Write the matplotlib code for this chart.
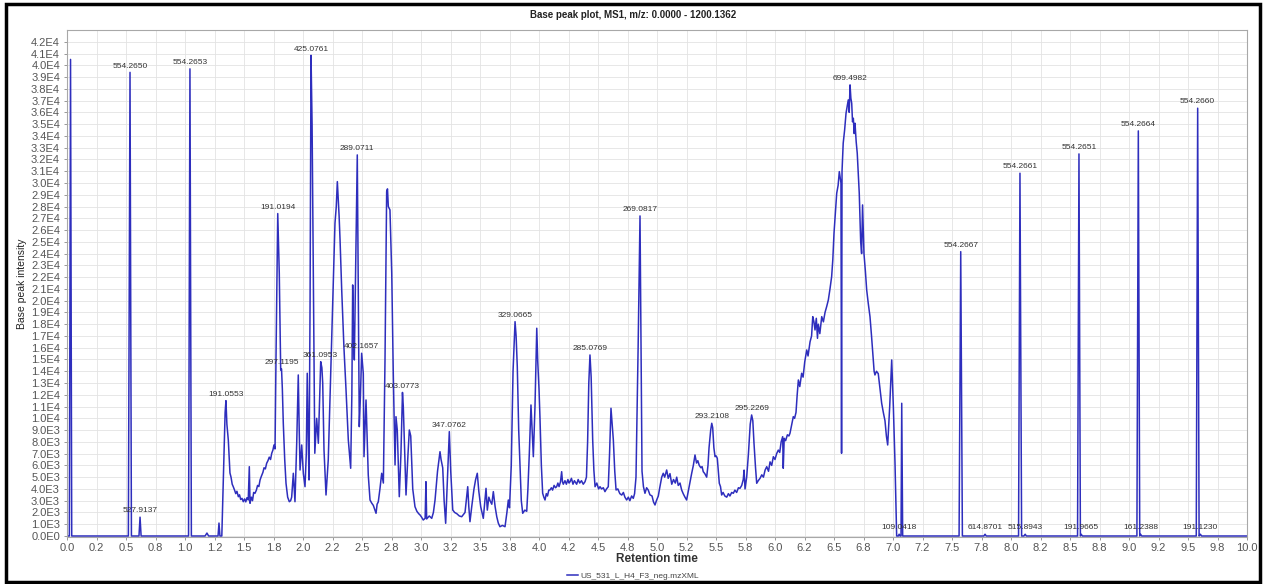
import numpy as np
import matplotlib
matplotlib.use('Agg')
import matplotlib.pyplot as plt
from matplotlib.patches import Rectangle
from matplotlib.lines import Line2D

plt.rcParams['font.family'] = ['Liberation Sans', 'DejaVu Sans']

TITLE = 'Base peak plot, MS1, m/z: 0.0000 - 1200.1362'
SAMPLE = 'US_531_L_H4_F3_neg.mzXML'
X_LABEL = 'Retention time'
Y_LABEL = 'Base peak intensity'

# base peak chromatogram: retention time (min) / intensity
rt = [
    0.000, 0.020, 0.030, 0.040, 0.520, 0.534, 0.546, 0.610, 0.619, 0.628,
    1.030, 1.042, 1.054, 1.170, 1.186, 1.200, 1.280, 1.288, 1.296, 1.312,
    1.325, 1.340, 1.347, 1.355, 1.367, 1.381, 1.390, 1.400, 1.409, 1.420,
    1.430, 1.440, 1.452, 1.462, 1.472, 1.483, 1.494, 1.505, 1.515, 1.525,
    1.536, 1.545, 1.551, 1.562, 1.572, 1.582, 1.593, 1.605, 1.615, 1.626,
    1.636, 1.648, 1.660, 1.670, 1.681, 1.692, 1.703, 1.714, 1.725, 1.735,
    1.745, 1.754, 1.763, 1.771, 1.786, 1.799, 1.811, 1.818, 1.825, 1.833,
    1.845, 1.856, 1.870, 1.884, 1.895, 1.904, 1.918, 1.932, 1.947, 1.960,
    1.968, 1.975, 1.989, 2.003, 2.017, 2.028, 2.036, 2.045, 2.051, 2.060,
    2.068, 2.077, 2.087, 2.100, 2.116, 2.130, 2.142, 2.150, 2.160, 2.167,
    2.178, 2.195, 2.214, 2.230, 2.243, 2.258, 2.271, 2.282, 2.291, 2.299,
    2.306, 2.314, 2.328, 2.347, 2.364, 2.384, 2.404, 2.414, 2.421, 2.428,
    2.435, 2.448, 2.460, 2.468, 2.477, 2.487, 2.497, 2.505, 2.511, 2.517,
    2.534, 2.553, 2.568, 2.582, 2.596, 2.610, 2.619, 2.628, 2.638, 2.652,
    2.667, 2.681, 2.695, 2.709, 2.716, 2.723, 2.737, 2.752, 2.765, 2.780,
    2.788, 2.799, 2.816, 2.830, 2.843, 2.850, 2.856, 2.873, 2.890, 2.901,
    2.913, 2.930, 2.949, 2.965, 2.980, 2.992, 3.005, 3.019, 3.035, 3.042,
    3.048, 3.070, 3.091, 3.105, 3.119, 3.140, 3.161, 3.170, 3.184, 3.196,
    3.209, 3.225, 3.240, 3.252, 3.269, 3.285, 3.303, 3.325, 3.345, 3.373,
    3.396, 3.405, 3.415, 3.430, 3.449, 3.463, 3.477, 3.490, 3.506, 3.528,
    3.540, 3.551, 3.562, 3.575, 3.585, 3.600, 3.613, 3.628, 3.642, 3.655,
    3.669, 3.690, 3.712, 3.728, 3.740, 3.750, 3.765, 3.780, 3.797, 3.806,
    3.816, 3.828, 3.839, 3.850, 3.862, 3.880, 3.896, 3.906, 3.918, 3.932,
    3.942, 3.952, 3.966, 3.981, 3.989, 4.000, 4.008, 4.020, 4.031, 4.041,
    4.051, 4.062, 4.072, 4.083, 4.093, 4.105, 4.115, 4.128, 4.140, 4.150,
    4.160, 4.170, 4.182, 4.192, 4.199, 4.206, 4.220, 4.232, 4.245, 4.255,
    4.263, 4.275, 4.288, 4.300, 4.319, 4.332, 4.345, 4.360, 4.375, 4.390,
    4.402, 4.412, 4.422, 4.432, 4.442, 4.455, 4.465, 4.475, 4.490, 4.505,
    4.517, 4.530, 4.545, 4.559, 4.572, 4.587, 4.598, 4.610, 4.620, 4.630,
    4.642, 4.653, 4.668, 4.685, 4.701, 4.715, 4.728, 4.743, 4.757, 4.770,
    4.785, 4.799, 4.810, 4.822, 4.840, 4.856, 4.866, 4.873, 4.885, 4.898,
    4.912, 4.926, 4.940, 4.958, 4.970, 4.983, 4.995, 5.011, 5.025, 5.040,
    5.053, 5.065, 5.082, 5.095, 5.110, 5.125, 5.140, 5.155, 5.167, 5.180,
    5.195, 5.209, 5.222, 5.237, 5.251, 5.265, 5.280, 5.294, 5.308, 5.322,
    5.335, 5.346, 5.358, 5.372, 5.382, 5.392, 5.405, 5.421, 5.432, 5.441,
    5.455, 5.464, 5.472, 5.482, 5.492, 5.502, 5.511, 5.520, 5.528, 5.538,
    5.548, 5.560, 5.575, 5.591, 5.605, 5.618, 5.633, 5.647, 5.660, 5.675,
    5.690, 5.703, 5.718, 5.731, 5.738, 5.746, 5.760, 5.775, 5.790, 5.802,
    5.812, 5.822, 5.835, 5.845, 5.858, 5.873, 5.888, 5.902, 5.916, 5.930,
    5.945, 5.958, 5.972, 5.986, 6.000, 6.014, 6.028, 6.040, 6.052, 6.065,
    6.070, 6.078, 6.090, 6.105, 6.118, 6.127, 6.140, 6.155, 6.166, 6.178,
    6.188, 6.198, 6.210, 6.226, 6.238, 6.252, 6.269, 6.280, 6.297, 6.310,
    6.320, 6.330, 6.339, 6.350, 6.360, 6.367, 6.380, 6.396, 6.410, 6.424,
    6.438, 6.452, 6.466, 6.480, 6.490, 6.500, 6.512, 6.523, 6.535, 6.545,
    6.559, 6.564, 6.568, 6.578, 6.590, 6.602, 6.612, 6.621, 6.629, 6.636,
    6.643, 6.650, 6.657, 6.664, 6.671, 6.678, 6.688, 6.697, 6.705, 6.714,
    6.720, 6.726, 6.734, 6.742, 6.748, 6.754, 6.766, 6.777, 6.790, 6.805,
    6.818, 6.833, 6.840, 6.847, 6.860, 6.875, 6.890, 6.904, 6.918, 6.932,
    6.944, 6.955, 6.972, 6.989, 7.003, 7.017, 7.031, 7.045, 7.052, 7.060,
    7.068, 7.074, 7.082, 7.560, 7.574, 7.588, 7.770, 7.780, 7.790, 8.064,
    8.076, 8.090, 8.110, 8.120, 8.130, 8.564, 8.576, 8.588, 8.595, 8.605,
    9.067, 9.079, 9.091, 9.098, 9.108, 9.570, 9.582, 9.594, 9.605, 9.615,
    10.000,
]

intensity = [
    0, 0, 40500, 0, 0, 39400, 0, 0, 1600, 0,
    0, 39700, 0, 0, 250, 0, 0, 1100, 0, 0,
    5000, 10500, 11500, 9500, 8160, 5355, 5000, 4400, 4190, 3900,
    3600, 3800, 3340, 3500, 3100, 3200, 2915, 3150, 2900, 3250,
    3060, 5890, 2780, 3300, 3000, 3700, 3630, 3900, 4300, 4200,
    4760, 5100, 5400, 5800, 5700, 6180, 6400, 6700, 6500, 7030,
    7300, 7735, 7400, 15000, 27400, 22300, 14100, 14200, 12500, 9580,
    6500, 4480, 3300, 2915, 3000, 3300, 5330, 2915, 8000, 13685,
    9000, 5610, 7735, 5300, 4190, 7000, 13830, 8000, 4760, 20000,
    40850, 35000, 22330, 7030, 10000, 7880, 12000, 14815, 14300, 13000,
    7310, 3485, 6460, 12000, 16660, 22000, 26580, 28000, 30115, 28500,
    27200, 25160, 20910, 16000, 12550, 8160, 5755, 12000, 21335, 17000,
    14960, 24000, 32385, 22000, 9290, 12000, 15530, 14500, 13800, 6740,
    11560, 5200, 3060, 2800, 2600, 2200, 1930, 2700, 2900, 4000,
    5330, 4500, 15000, 29265, 29500, 28000, 27710, 22330, 13830, 6035,
    10140, 9000, 3340, 7000, 12200, 11000, 9000, 3485, 7000, 9010,
    8500, 4000, 2490, 2100, 1900, 1785, 1600, 1360, 1500, 4615,
    1450, 1700, 1500, 2000, 3060, 5500, 7165, 6500, 5800, 3000,
    1080, 5000, 8870, 5500, 2210, 2000, 1900, 1700, 1640, 2000,
    4190, 2500, 1215, 2500, 4000, 4800, 5330, 3800, 2490, 1500,
    2800, 4050, 2200, 3300, 3000, 2700, 3770, 2500, 1640, 1100,
    790, 900, 790, 2000, 3060, 2400, 6000, 14000, 18215, 17000,
    14390, 9000, 5890, 3000, 1930, 2200, 2100, 4000, 7030, 11135,
    9000, 6740, 11000, 17655, 14900, 12500, 10140, 6000, 3630, 3300,
    3060, 3600, 3400, 3900, 3910, 4100, 3900, 4300, 4100, 4200,
    4500, 4200, 4600, 5465, 4600, 4400, 4700, 4400, 4800, 4500,
    4615, 4900, 4400, 4700, 4400, 4800, 4500, 4700, 4400, 4615,
    5000, 8000, 13000, 15385, 13500, 8160, 5600, 4190, 4500, 4000,
    4190, 4000, 4100, 3770, 4000, 4190, 7000, 10855, 9500, 8160,
    5500, 3910, 4000, 3600, 3480, 3700, 3300, 3060, 3300, 3000,
    3400, 3200, 3600, 5000, 16000, 27200, 15000, 5500, 4200, 3630,
    4100, 3900, 3500, 3400, 2900, 2635, 3000, 3400, 4200, 5000,
    5330, 5000, 5610, 4900, 5300, 4400, 4800, 4500, 5000, 4300,
    4500, 3910, 3600, 3300, 3060, 3800, 4600, 5330, 6000, 6885,
    6200, 6400, 6000, 5800, 5900, 5465, 5300, 5000, 6000, 7500,
    9000, 9580, 9200, 7500, 6740, 6800, 6600, 5500, 4480, 4200,
    3485, 3700, 3400, 3300, 3600, 3400, 3700, 3630, 3900, 3700,
    4100, 4050, 4300, 4800, 5600, 4000, 5000, 7000, 9500, 10285,
    9800, 7880, 5800, 4480, 4700, 4900, 5200, 5000, 5600, 5890,
    5500, 6300, 6000, 6740, 6500, 7000, 7300, 7100, 8000, 8440,
    5755, 8300, 8100, 8600, 8500, 8730, 9400, 10140, 10000, 10500,
    12000, 13260, 12700, 13830, 13500, 14800, 15810, 15300, 16500, 17000,
    18640, 18200, 17510, 18500, 16800, 18000, 17200, 18640, 18200, 19000,
    19500, 20060, 21000, 22040, 23500, 25730, 27500, 29130, 29800, 30965,
    30000, 7030, 31000, 33380, 34500, 35930, 36500, 37060, 36000, 38335,
    37200, 36780, 35200, 35500, 34200, 35080, 33500, 32530, 31000, 29130,
    27000, 25020, 24000, 28135, 26000, 24000, 22500, 20910, 19800, 18640,
    17000, 14960, 14000, 13685, 14000, 13800, 12500, 11280, 10500, 9800,
    8500, 7735, 11000, 14960, 10990, 6180, 0, 0, 150, 0,
    0, 11280, 0, 0, 24165, 0, 0, 150, 0, 0,
    30830, 0, 0, 150, 0, 0, 32470, 0, 150, 0,
    0, 34425, 0, 150, 0, 0, 36355, 0, 150, 0,
    0,
]

# labelled peaks: m/z and the retention time of the apex
peak_mz = [
    '554.2650', '527.9137', '554.2653', '191.0553', '191.0194', '297.1195',
    '425.0761', '361.0953', '289.0711', '402.1657', '403.0773', '347.0762',
    '329.0665', '285.0769', '269.0817', '293.2108', '295.2269', '699.4982',
    '109.0418', '554.2667', '614.8701', '554.2661', '515.8943', '554.2651',
    '191.9665', '554.2664', '161.2388', '554.2660', '191.1230',
]
peak_rt = [
    0.534, 0.619, 1.042, 1.347, 1.786, 1.818,
    2.068, 2.150, 2.460, 2.497, 2.843, 3.240,
    3.797, 4.432, 4.856, 5.464, 5.802, 6.636,
    7.052, 7.574, 7.780, 8.076, 8.120, 8.576,
    8.595, 9.079, 9.098, 9.582, 9.605,
]
peak_int = [intensity[rt.index(r)] for r in peak_rt]

x_ticks = np.arange(0, 10.001, 0.25)
x_tick_labels = ['{:.1f}'.format(v) for v in x_ticks]
y_ticks = np.arange(0, 42001, 1000)


def sci_label(v):
    if v == 0:
        return '0.0E0'
    e = int(np.floor(np.log10(v)))
    return '{:.1f}E{}'.format(v / 10 ** e, e)


y_tick_labels = [sci_label(v) for v in y_ticks]

W, H = 1268, 584
fig = plt.figure(figsize=(W / 100, H / 100), dpi=100)
ax = fig.add_axes([67 / W, 1 - 537 / H, (1247 - 67) / W, (537 - 30) / H])

line_color = '#2e2ebd'
ax.plot(rt, intensity, color=line_color, lw=1.1)

for mz, x, y in zip(peak_mz, peak_rt, peak_int):
    ax.annotate(mz, (x, y), xytext=(0, 2), textcoords='offset points',
                ha='center', va='bottom', fontsize=6, color='#333333')

ax.set_xlim(0, 10)
ax.set_ylim(-85, 43000)
ax.set_xticks(x_ticks)
ax.set_xticklabels(x_tick_labels)
ax.set_yticks(y_ticks)
ax.set_yticklabels(y_tick_labels)
ax.tick_params(axis='both', labelsize=8, labelcolor='#555555', color='#888888',
               length=2, width=0.6)
ax.tick_params(axis='x', pad=2.5)
ax.tick_params(axis='y', pad=3)
ax.grid(True, color='#e3e3e3', lw=0.6)
ax.set_axisbelow(True)
for s in ax.spines.values():
    s.set_color('#a8a8a8')
    s.set_linewidth(0.8)

fig.text(633 / W, 1 - 15 / H, TITLE, ha='center', va='center',
         fontsize=7, weight='bold', color='#222222')
fig.text(657 / W, 1 - 559 / H, X_LABEL, ha='center', va='center',
         fontsize=8.5, weight='bold', color='#333333')
fig.text(22 / W, 1 - 284 / H, Y_LABEL, ha='center', va='center',
         rotation=90, fontsize=7.5, color='#222222')

handle = Line2D([], [], color=line_color, lw=1.1)
fig.legend([handle], [SAMPLE], loc='center', bbox_to_anchor=(633 / W, 1 - 576 / H),
           frameon=False, fontsize=6, handlelength=1.3, handletextpad=0.3,
           labelcolor='#444444')

# screenshot frame
fig.add_artist(Rectangle((6 / W, 2 / H), (1259.5 - 6) / W, (580 - 2) / H,
                         transform=fig.transFigure, fill=False, lw=2.5,
                         ec='black'))

fig.savefig('out.png', dpi=100)
